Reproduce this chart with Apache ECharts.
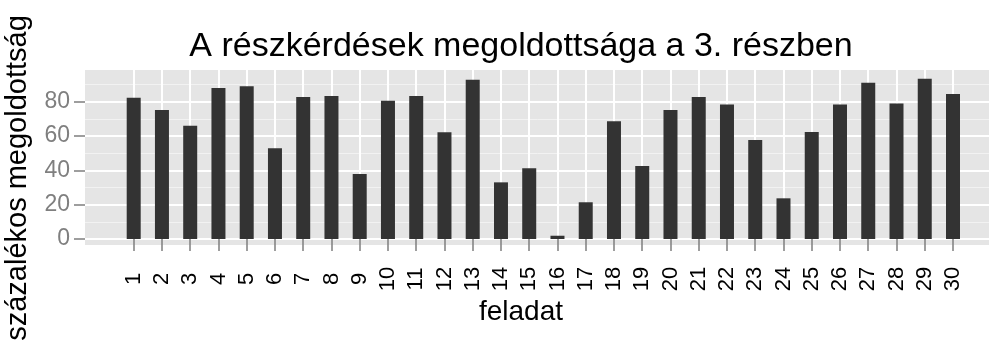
<!DOCTYPE html>
<html>
<head>
<meta charset="utf-8">
<title>A részkérdések megoldottsága a 3. részben</title>
<script src="https://cdn.jsdelivr.net/npm/echarts@6/dist/echarts.min.js"></script>
<style>
  html, body { margin: 0; padding: 0; background: #ffffff; }
  #chart { width: 989px; height: 346px; }
</style>
</head>
<body>
<div id="chart"></div>
<script>
// Task numbers (x categories) and the share of students who solved each one, in percent
const tasks = ['1', '2', '3', '4', '5', '6', '7', '8', '9', '10',
               '11', '12', '13', '14', '15', '16', '17', '18', '19', '20',
               '21', '22', '23', '24', '25', '26', '27', '28', '29', '30'];
const solvedPct = [82.3, 75.2, 66.0, 88.0, 89.0, 52.8, 82.7, 83.3, 37.9, 80.6,
                   83.3, 62.2, 92.8, 33.0, 41.2, 1.9, 21.4, 68.6, 42.5, 75.2,
                   82.7, 78.3, 57.7, 23.7, 62.3, 78.3, 91.1, 79.0, 93.4, 84.5];
const yTicks = [0, 20, 40, 60, 80];

const titleText = 'A részkérdések megoldottsága a 3. részben';
const xName = 'feladat';
const yName = 'százalékos megoldottság';

const FONT = '"Liberation Sans", Arial, Helvetica, sans-serif';

// Plot geometry: the value axis runs 0..100 from the zero line up
const ZERO_Y = 239;
const PX_PER_UNIT = 1.7165;
const gridTop = ZERO_Y - 100 * PX_PER_UNIT;
const gridBottom = 346 - ZERO_Y;

const chart = echarts.init(document.getElementById('chart'), null, { renderer: 'canvas' });

chart.setOption({
  animation: false,
  backgroundColor: '#ffffff',
  title: {
    text: titleText,
    left: 521,
    top: 30,
    textAlign: 'center',
    padding: 0,
    textStyle: { fontFamily: FONT, fontSize: 34, fontWeight: 'normal', color: '#000000' }
  },
  graphic: [
    // grey plotting panel
    { type: 'rect', z: -10, silent: true,
      shape: { x: 85, y: 70, width: 904, height: 175 },
      style: { fill: '#e5e5e5' } },
    // y axis title
    { type: 'text', x: 18, y: 178, rotation: Math.PI / 2, silent: true,
      style: { text: yName, font: '29px ' + FONT, fill: '#000000',
               textAlign: 'center', textVerticalAlign: 'middle' } },
    // x axis title
    { type: 'text', x: 521, y: 312, silent: true,
      style: { text: xName, font: '28px ' + FONT, fill: '#000000',
               textAlign: 'center', textVerticalAlign: 'middle' } }
  ],
  grid: [
    // full panel width: carries the horizontal grid lines and y labels
    { left: 85, right: -13, top: gridTop, bottom: gridBottom, outerBoundsMode: 'none' },
    // bar area: first and last task sit on the grid edges
    { left: 133.7, right: 36, top: gridTop, bottom: gridBottom, outerBoundsMode: 'none' }
  ],
  xAxis: [
    { gridIndex: 0, type: 'value', min: 0, max: 1, show: false },
    {
      gridIndex: 1,
      type: 'category',
      data: tasks,
      boundaryGap: false,
      offset: 6,
      axisLine: { show: false },
      axisTick: { show: true, length: 12, lineStyle: { color: '#7f7f7f', width: 1.5 } },
      axisLabel: {
        interval: 0, rotate: 90, margin: 34, align: 'center', verticalAlign: 'middle',
        fontFamily: FONT, fontSize: 22, color: '#000000'
      },
      splitLine: { show: true, lineStyle: { color: '#ffffff', width: 2 } }
    }
  ],
  yAxis: [
    {
      gridIndex: 0,
      type: 'value',
      min: 0,
      max: 100,
      interval: 20,
      axisLine: { show: false },
      axisTick: { show: true, length: 11, customValues: yTicks,
                  lineStyle: { color: '#7f7f7f', width: 1.5 } },
      axisLabel: { customValues: yTicks, margin: 15,
                   fontFamily: FONT, fontSize: 23, color: '#7f7f7f' },
      splitLine: { show: true, lineStyle: { color: '#ffffff', width: 2 } },
      minorTick: { show: false, splitNumber: 2 },
      minorSplitLine: { show: true, lineStyle: { color: '#f2f2f2', width: 1 } }
    },
    { gridIndex: 1, type: 'value', min: 0, max: 100, show: false }
  ],
  series: [
    {
      type: 'bar',
      xAxisIndex: 1,
      yAxisIndex: 1,
      data: solvedPct,
      barWidth: 14,
      itemStyle: { color: '#333333' }
    }
  ]
});
</script>
</body>
</html>
